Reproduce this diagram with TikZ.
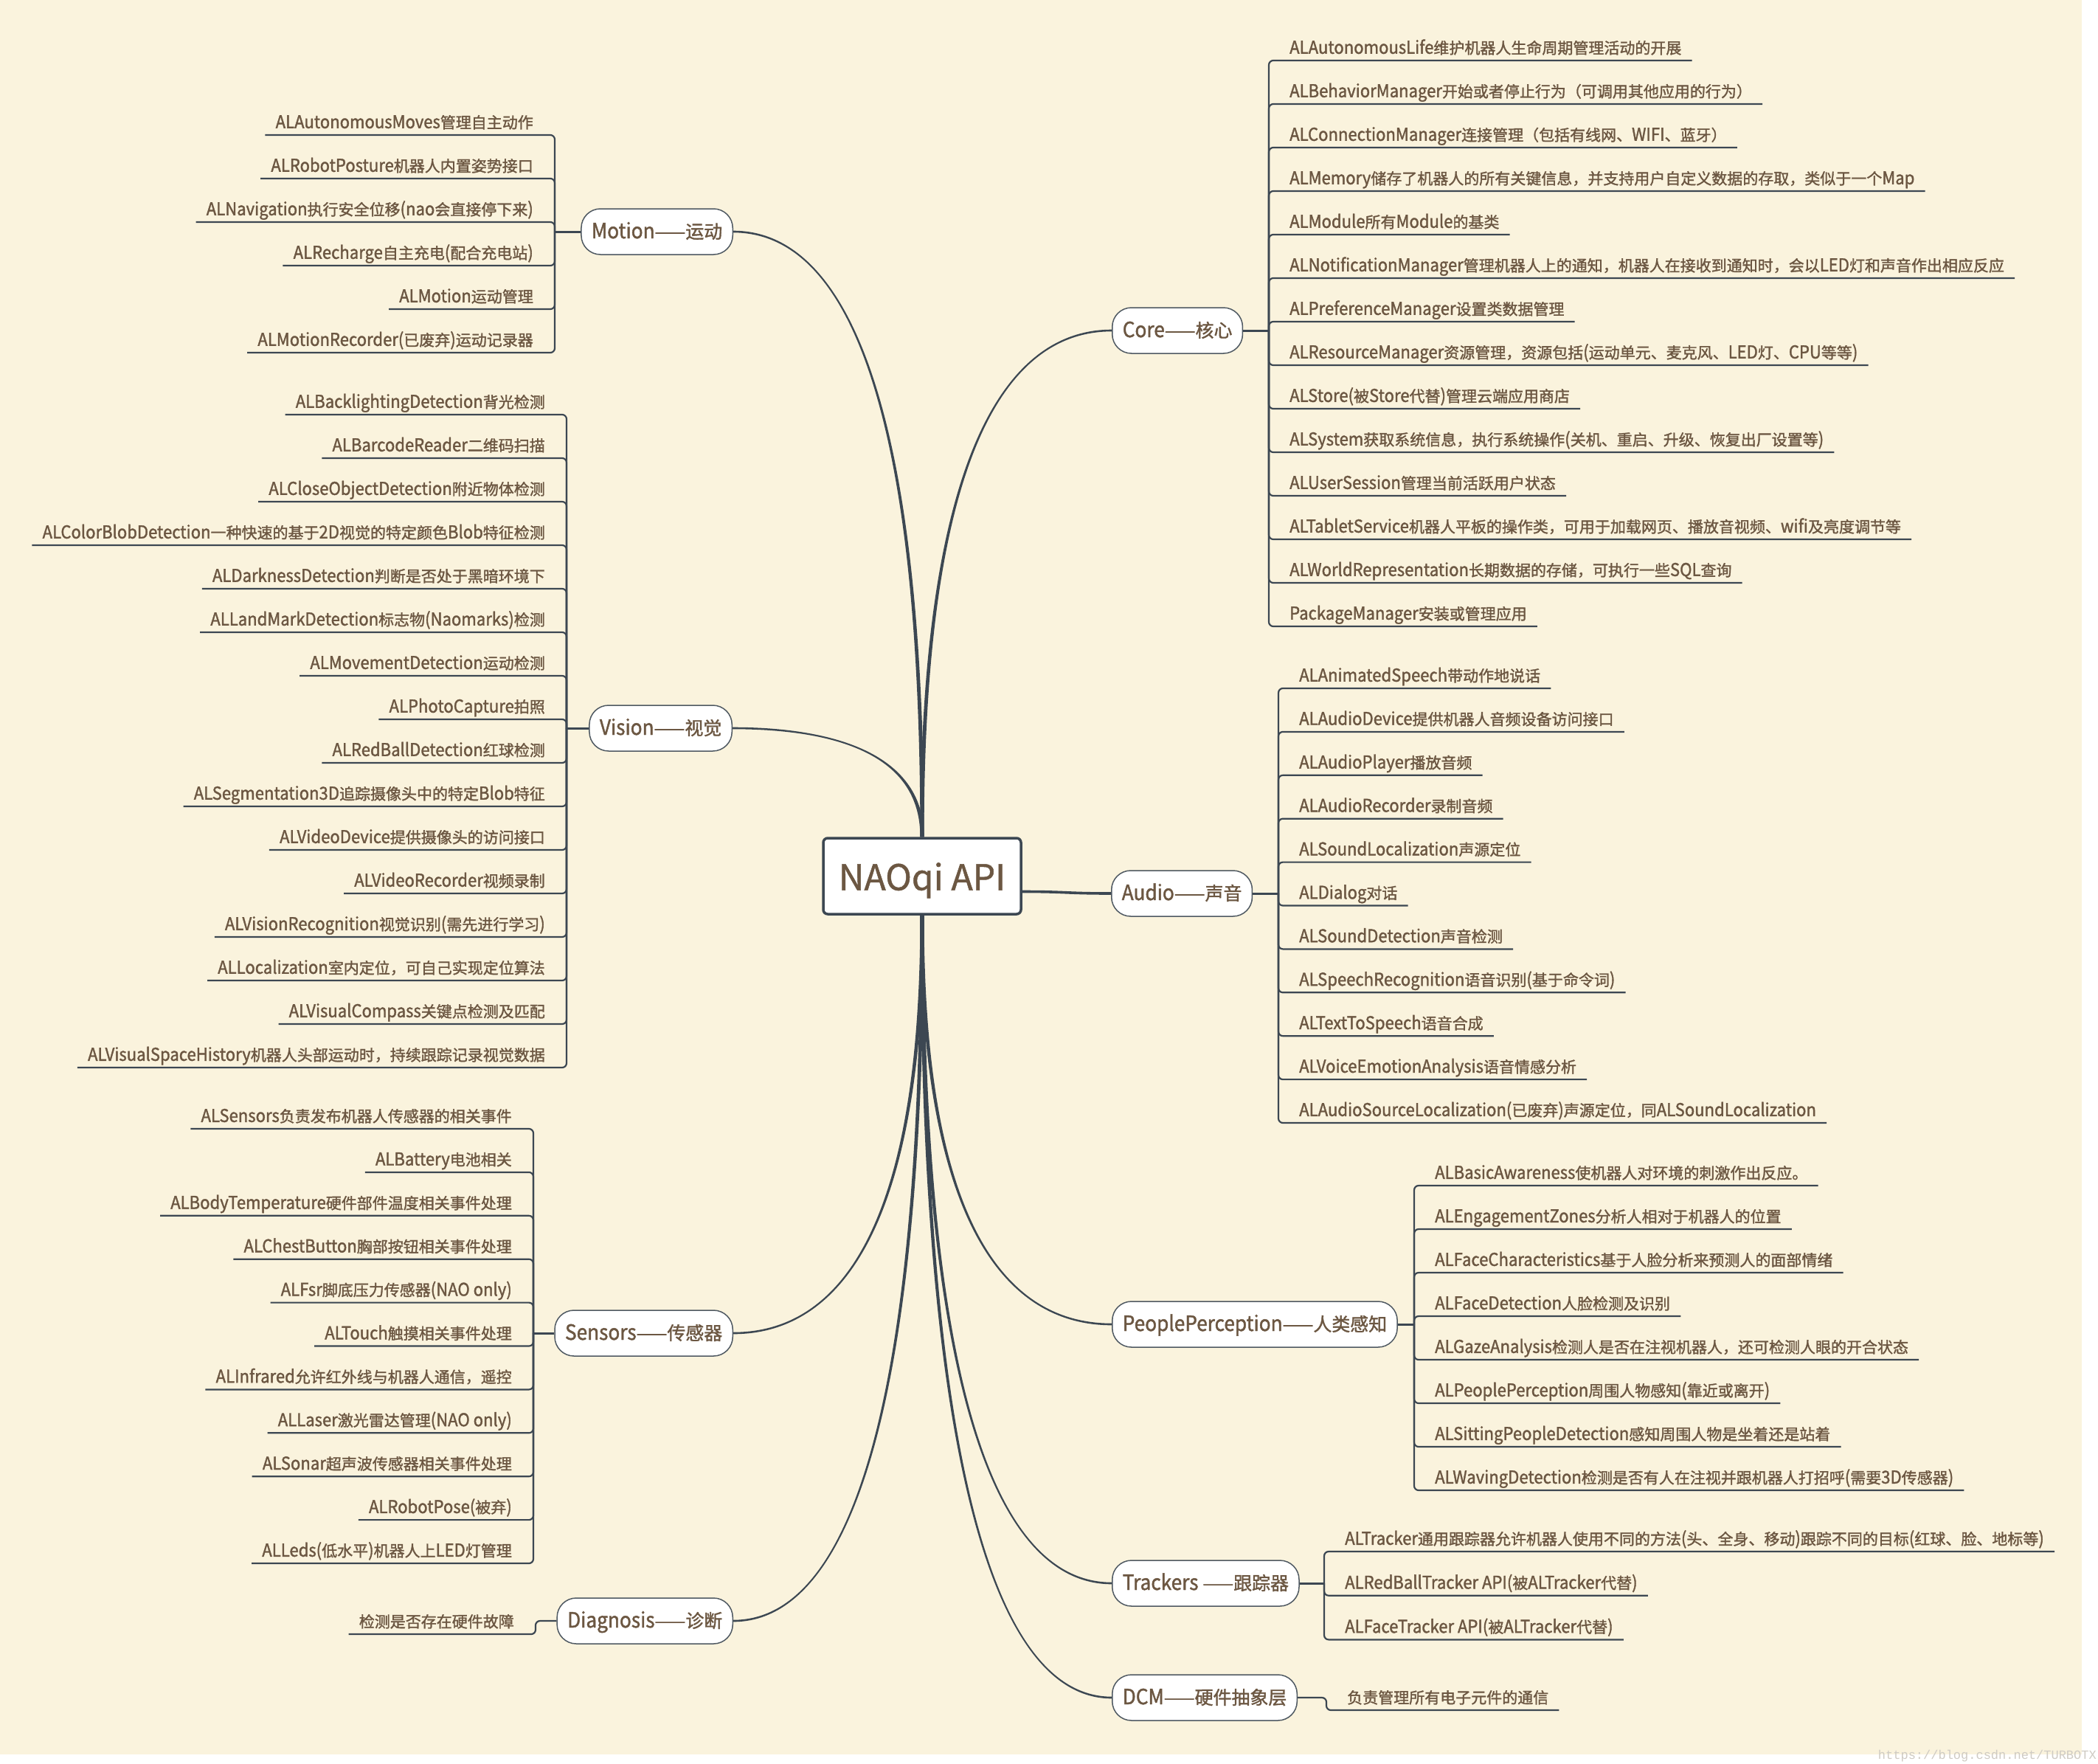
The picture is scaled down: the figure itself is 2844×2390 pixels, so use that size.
\documentclass[tikz,border=0pt]{standalone}
\usepackage{fontspec}
\setmainfont{Noto Sans CJK SC}[FakeStretch=0.92, FakeBold=1.5]
\newfontfamily\latf{Noto Sans CJK SC}[FakeStretch=0.92, FakeBold=1.5]
\newfontfamily\cjkf{Noto Sans CJK SC}[Scale=0.875, FakeBold=1.5]
\newfontfamily\rootf{Noto Sans CJK SC}[FakeBold=1]
\newfontfamily\wmf{Liberation Mono}
\usetikzlibrary{backgrounds}
% CJK characters are set a little smaller than the Latin ones (as in the original font mix)
\XeTeXinterchartokenstate=1
\count255="4E00 \loop \XeTeXcharclass\count255=100 \ifnum\count255<"9FFF \advance\count255 by 1 \repeat
\count255="3000 \loop \XeTeXcharclass\count255=100 \ifnum\count255<"303F \advance\count255 by 1 \repeat
\count255="FF00 \loop \XeTeXcharclass\count255=100 \ifnum\count255<"FFEF \advance\count255 by 1 \repeat
\count255="21 \loop \XeTeXcharclass\count255=0 \ifnum\count255<"7E \advance\count255 by 1 \repeat
\XeTeXcharclass"2014=100
\XeTeXinterchartoks 0 100 = {\cjkf}
\XeTeXinterchartoks 4095 100 = {\cjkf}
\XeTeXinterchartoks 100 0 = {\latf}
\XeTeXinterchartoks 100 4095 = {\latf}
\definecolor{bgc}{HTML}{FAF3DD}
\definecolor{txtc}{HTML}{6C5742}
\definecolor{linec}{HTML}{3C4752}
\definecolor{bordc}{HTML}{4F5962}
\definecolor{wmc}{HTML}{CFCBC3}
\newcommand\leaffont{\fontsize{24}{29}\selectfont}
\newcommand\branchfont{\fontsize{28.5}{34}\selectfont}
\newcommand\rootfont{\rootf\fontsize{48}{56}\selectfont}
% tapered main connector: #1 start anchor, #2 end anchor, #3 #4 control points,
% #5 #6 vertical offsets at the end for the two sides
\newcommand\taperlink[6]{%
  \fill[linec] ([xshift=-2.6pt]#1) .. controls ([xshift=-2.2pt]#3) and ([yshift=#5pt]#4) .. ([yshift=#5pt]#2)
    -- ([yshift=#6pt]#2) .. controls ([yshift=#6pt]#4) and ([xshift=2.2pt]#3) .. ([xshift=2.6pt]#1) -- cycle;}
\tikzset{
  leaf/.style={font=\leaffont, text=txtc, inner xsep=14pt, inner ysep=0pt, text height=18pt, text depth=9pt},
  lleaf/.style={leaf, anchor=south east},
  rleaf/.style={leaf, anchor=south west},
  branch/.style={draw=bordc, line width=1.5pt, fill=white, rounded corners=26pt, font=\branchfont, text=txtc,
    inner xsep=14pt, inner ysep=0pt, minimum height=62pt, text height=20pt, text depth=2pt},
  rootbox/.style={draw=linec, line width=3.5pt, fill=white, rounded corners=6pt, font=\rootfont, text=txtc,
    minimum width=268pt, minimum height=103pt, inner sep=0pt, text height=38pt, text depth=0pt},
  link/.style={draw=linec, line width=3.6pt},
  stub/.style={draw=linec, line width=3pt},
  lconn/.style={draw=linec, line width=2.2pt, rounded corners=6pt},
}
\begin{document}
\begin{tikzpicture}[x=1pt,y=-1pt]
\useasboundingbox (0,0) rectangle (2844,2390);
\begin{scope}[on background layer]
  \fill[white] (0,0) rectangle (2844,2390);
  \fill[bgc] (0,0) rectangle (2822,2378);
\end{scope}

% root and branches
\node[rootbox] (root) at (1250,1187.5) {NAOqi API};
\node[branch, anchor=east] (motion) at (994,314) {Motion——运动};
\node[branch, anchor=east] (vision) at (993,987) {Vision——视觉};
\node[branch, anchor=east] (sensors) at (994,1807) {Sensors——传感器};
\node[branch, anchor=east] (diagnosis) at (994,2197) {Diagnosis——诊断};
\node[branch, anchor=west] (core) at (1507,448) {Core——核心};
\node[branch, anchor=west] (audio) at (1506,1211) {Audio——声音};
\node[branch, anchor=west] (people) at (1507,1795) {PeoplePerception——人类感知};
\node[branch, anchor=west] (trackers) at (1507,2146) {Trackers ——跟踪器};
\node[branch, anchor=west] (dcm) at (1507,2301) {DCM——硬件抽象层};

% bracket junctions
\coordinate (mj) at (752,314);
\coordinate (vj) at (768,987);
\coordinate (sj) at (723,1807);
\coordinate (dj) at (726,2197);
\coordinate (cj) at (1720,448);
\coordinate (aj) at (1733,1211);
\coordinate (pj) at (1917,1795);
\coordinate (tj) at (1795,2146);
\coordinate (xj) at (1798,2301);

% Motion
\draw[stub] (motion.west) -- (mj);
\foreach \lbl [count=\i from 0] in {ALAutonomousMoves管理自主动作, ALRobotPosture机器人内置姿势接口,
  ALNavigation执行安全位移(nao会直接停下来), ALRecharge自主充电(配合充电站), ALMotion运动管理,
  ALMotionRecorder(已废弃)运动记录器}{
  \node[lleaf] (m\i) at (737,183+59*\i) {\lbl};
  \draw[lconn] (mj) |- (m\i.south west);
}

% Vision
\draw[stub] (vision.west) -- (vj);
\foreach \lbl [count=\i from 0] in {ALBacklightingDetection背光检测, ALBarcodeReader二维码扫描,
  ALCloseObjectDetection附近物体检测, ALColorBlobDetection一种快速的基于2D视觉的特定颜色Blob特征检测,
  ALDarknessDetection判断是否处于黑暗环境下, ALLandMarkDetection标志物(Naomarks)检测,
  ALMovementDetection运动检测, ALPhotoCapture拍照, ALRedBallDetection红球检测,
  ALSegmentation3D追踪摄像头中的特定Blob特征, ALVideoDevice提供摄像头的访问接口,
  ALVideoRecorder视频录制, ALVisionRecognition视觉识别(需先进行学习),
  ALLocalization室内定位，可自己实现定位算法, ALVisualCompass关键点检测及匹配,
  ALVisualSpaceHistory机器人头部运动时，持续跟踪记录视觉数据}{
  \node[lleaf] (v\i) at (753,562+59*\i) {\lbl};
  \draw[lconn] (vj) |- (v\i.south west);
}

% Sensors
\draw[stub] (sensors.west) -- (sj);
\foreach \lbl [count=\i from 0] in {ALSensors负责发布机器人传感器的相关事件, ALBattery电池相关,
  ALBodyTemperature硬件部件温度相关事件处理, ALChestButton胸部按钮相关事件处理,
  ALFsr脚底压力传感器(NAO only), ALTouch触摸相关事件处理, ALInfrared允许红外线与机器人通信，遥控,
  ALLaser激光雷达管理(NAO only), ALSonar超声波传感器相关事件处理, ALRobotPose(被弃),
  ALLeds(低水平)机器人上LED灯管理}{
  \node[lleaf] (s\i) at (708,1530+58.9*\i) {\lbl};
  \draw[lconn] (sj) |- (s\i.south west);
}

% Diagnosis
\node[lleaf] (d0) at (711,2215) {检测是否存在硬件故障};
\draw[lconn] (diagnosis.west) -- (dj) |- (d0.south west);

% Core
\draw[stub] (core.east) -- (cj);
\foreach \lbl [count=\i from 0] in {ALAutonomousLife维护机器人生命周期管理活动的开展,
  ALBehaviorManager开始或者停止行为（可调用其他应用的行为）,
  ALConnectionManager连接管理（包括有线网、WIFI、蓝牙）,
  ALMemory储存了机器人的所有关键信息，并支持用户自定义数据的存取，类似于一个Map,
  ALModule所有Module的基类,
  ALNotificationManager管理机器人上的通知，机器人在接收到通知时，会以LED灯和声音作出相应反应,
  ALPreferenceManager设置类数据管理,
  ALResourceManager资源管理，资源包括(运动单元、麦克风、LED灯、CPU等等),
  ALStore(被Store代替)管理云端应用商店,
  ALSystem获取系统信息，执行系统操作(关机、重启、升级、恢复出厂设置等),
  ALUserSession管理当前活跃用户状态,
  ALTabletService机器人平板的操作类，可用于加载网页、播放音视频、wifi及亮度调节等,
  ALWorldRepresentation长期数据的存储，可执行一些SQL查询,
  PackageManager安装或管理应用}{
  \node[rleaf] (c\i) at (1734,82+59*\i) {\lbl};
  \draw[lconn] (cj) |- (c\i.south east);
}

% Audio
\draw[stub] (audio.east) -- (aj);
\foreach \lbl [count=\i from 0] in {ALAnimatedSpeech带动作地说话, ALAudioDevice提供机器人音频设备访问接口,
  ALAudioPlayer播放音频, ALAudioRecorder录制音频, ALSoundLocalization声源定位, ALDialog对话,
  ALSoundDetection声音检测, ALSpeechRecognition语音识别(基于命令词), ALTextToSpeech语音合成,
  ALVoiceEmotionAnalysis语音情感分析,
  ALAudioSourceLocalization(已废弃)声源定位，同ALSoundLocalization}{
  \node[rleaf] (a\i) at (1747,933+58.9*\i) {\lbl};
  \draw[lconn] (aj) |- (a\i.south east);
}

% PeoplePerception
\draw[stub] (people.east) -- (pj);
\foreach \lbl [count=\i from 0] in {ALBasicAwareness使机器人对环境的刺激作出反应。,
  ALEngagementZones分析人相对于机器人的位置, ALFaceCharacteristics基于人脸分析来预测人的面部情绪,
  ALFaceDetection人脸检测及识别, ALGazeAnalysis检测人是否在注视机器人，还可检测人眼的开合状态,
  ALPeoplePerception周围人物感知(靠近或离开), ALSittingPeopleDetection感知周围人物是坐着还是站着,
  ALWavingDetection检测是否有人在注视并跟机器人打招呼(需要3D传感器)}{
  \node[rleaf] (p\i) at (1931,1607+59*\i) {\lbl};
  \draw[lconn] (pj) |- (p\i.south east);
}

% Trackers
\draw[stub] (trackers.east) -- (tj);
\foreach \lbl [count=\i from 0] in {ALTracker通用跟踪器允许机器人使用不同的方法(头、全身、移动)跟踪不同的目标(红球、脸、地标等),
  ALRedBallTracker API(被ALTracker代替), ALFaceTracker API(被ALTracker代替)}{
  \node[rleaf] (t\i) at (1809,2103+59.7*\i) {\lbl};
  \draw[lconn] (tj) |- (t\i.south east);
}

% DCM
\node[rleaf] (x0) at (1812,2318) {负责管理所有电子元件的通信};
\draw[lconn] (dcm.east) -- (xj) |- (x0.south east);

% main curves (tapered: thick at the root, thin at the branch)
\begin{scope}[on background layer]
  \taperlink{root.north}{motion.east}{1250,478}{1122,314}{-1.3}{1.3}
  \taperlink{root.north}{vision.east}{1250,1017}{1121,987}{-1.3}{1.3}
  \taperlink{root.north}{core.west}{1250,586}{1378,448}{1.3}{-1.3}
  \draw[link] ([yshift=-21pt]root.east) .. controls (1445,1208.5) and (1445,1211) .. (audio.west);
  \taperlink{root.south}{sensors.east}{1250,1693}{1122,1807}{1.3}{-1.3}
  \taperlink{root.south}{diagnosis.east}{1250,2005}{1122,2197}{1.3}{-1.3}
  \taperlink{root.south}{people.west}{1250,1684}{1378,1795}{-1.3}{1.3}
  \taperlink{root.south}{trackers.west}{1250,1965}{1378,2146}{-1.3}{1.3}
  \taperlink{root.south}{dcm.west}{1250,2089}{1378,2301}{-1.3}{1.3}
\end{scope}

% watermark
\node[font=\wmf\fontsize{17}{20}\selectfont, text=wmc, anchor=base east, inner sep=0pt] (wm) at (2842,2384) {https://blog.csdn.net/TURBOTX};
\end{tikzpicture}
\end{document}
